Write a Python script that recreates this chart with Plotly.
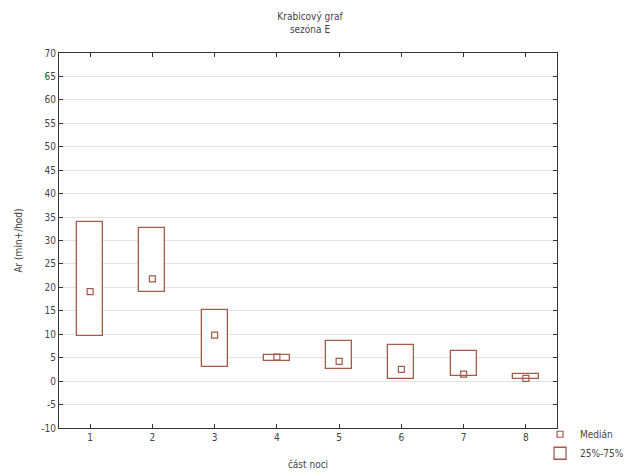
import plotly.graph_objects as go

# Night part categories and box statistics (Ar, min+/hod)
parts = [1, 2, 3, 4, 5, 6, 7, 8]
q1 = [9.6, 19.1, 3.1, 4.3, 2.5, 0.5, 1.0, 0.5]
q3 = [34.0, 32.6, 15.1, 5.5, 8.6, 7.7, 6.5, 1.5]
median = [19.1, 21.8, 9.8, 5.1, 4.2, 2.5, 1.5, 0.6]
y_ticks = list(range(-10, 75, 5))
y_tick_text = [str(v) for v in y_ticks]

box_color = "#a65a4a"
font_family = "DejaVu Sans Condensed, Liberation Sans Narrow, Arial Narrow, sans-serif"

fig = go.Figure()

# Interquartile boxes drawn as floating bars
fig.add_trace(go.Bar(
    x=parts,
    y=[b - a for a, b in zip(q1, q3)],
    base=q1,
    width=0.42,
    marker=dict(color="white", line=dict(color=box_color, width=1.3)),
    name="25%-75%",
    hoverinfo="skip",
))

# Median markers
fig.add_trace(go.Scatter(
    x=parts,
    y=median,
    mode="markers",
    marker=dict(symbol="square-open", size=6, color=box_color, line=dict(width=1.2)),
    name="Medián",
))

fig.update_layout(
    width=635,
    height=473,
    margin=dict(l=59, r=78, t=53, b=45, autoexpand=False),
    paper_bgcolor="white",
    plot_bgcolor="white",
    font=dict(family=font_family, size=10, color="#444"),
    title=dict(
        text="Krabicový graf<br>sezóna E",
        x=310 / 635, xanchor="center",
        y=1 - 20 / 473, yanchor="middle",
        font=dict(size=10, color="#444"),
    ),
    showlegend=True,
    legend=dict(
        x=0.966, xanchor="left",
        y=0.022, yanchor="top",
        traceorder="reversed",
        bgcolor="rgba(0,0,0,0)",
        font=dict(size=10, color="#444"),
        itemwidth=30,
        tracegroupgap=0,
    ),
    bargap=0,
)

fig.update_xaxes(
    range=[0.5, 8.5],
    tickvals=parts,
    ticktext=[str(p) for p in parts],
    showgrid=False,
    zeroline=False,
    showline=True,
    linecolor="#333",
    linewidth=1,
    mirror="ticks",
    ticks="inside",
    ticklen=4,
    tickcolor="#333",
    title=dict(text="část noci", standoff=18, font=dict(size=10, color="#444")),
)

fig.update_yaxes(
    range=[-10, 70],
    tickvals=y_ticks,
    ticktext=y_tick_text,
    showgrid=True,
    gridcolor="#e2e2e2",
    gridwidth=1,
    zeroline=False,
    showline=True,
    linecolor="#333",
    linewidth=1,
    mirror="ticks",
    ticks="inside",
    ticklen=4,
    tickcolor="#333",
    title=dict(text="Ar (min+/hod)", standoff=16, font=dict(size=10, color="#444")),
)

fig.write_html("out.html")
